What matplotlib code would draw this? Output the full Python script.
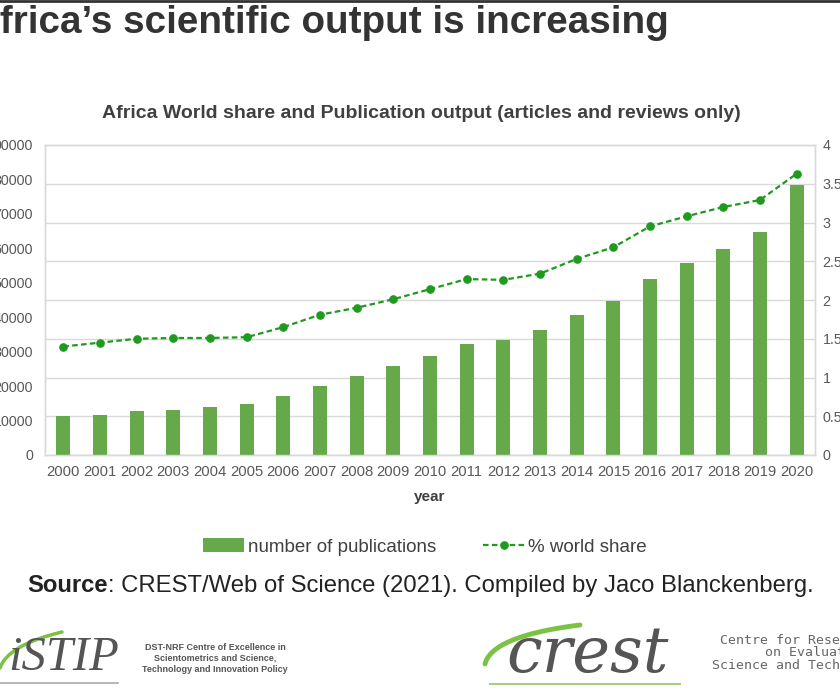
import matplotlib
matplotlib.use("Agg")
import matplotlib.pyplot as plt
import numpy as np
from matplotlib.lines import Line2D
from matplotlib.ticker import FuncFormatter

plt.rcParams['font.family'] = ['Liberation Sans', 'DejaVu Sans']

# values
years = ['2000', '2001', '2002', '2003', '2004', '2005', '2006', '2007', '2008', '2009', '2010',
         '2011', '2012', '2013', '2014', '2015', '2016', '2017', '2018', '2019', '2020']
publications = [11200, 11700, 12700, 13200, 13800, 14900, 17200, 20000, 22900, 25900, 28600,
                32200, 33500, 36400, 40700, 44700, 51200, 55700, 59700, 64800, 78300]
world_share = [1.40, 1.45, 1.50, 1.51, 1.51, 1.52, 1.65, 1.81, 1.90, 2.01, 2.14,
               2.27, 2.26, 2.34, 2.53, 2.68, 2.95, 3.08, 3.20, 3.29, 3.63]

bar_color = "#65a94a"
line_color = "#1f9a1f"
text_color = "#595959"
grid_color = "#d9d9d9"

W, H = 840, 690
fig = plt.figure(figsize=(W / 100, H / 100), dpi=100)


def fx(px):
    return px / W


def fy(py):
    return 1 - py / H


ax = fig.add_axes([fx(45), fy(455), (815 - 45) / W, (455 - 145) / H])
ax2 = ax.twinx()
ax.set_zorder(2)
ax.patch.set_visible(False)
ax2.set_zorder(1)

x = np.arange(len(years))
ax.bar(x, publications, width=0.38, color=bar_color, label='number of publications')
ax2.plot(x, world_share, linestyle=(0, (2.5, 1.5)), color=line_color, lw=1.6,
         marker='o', ms=5.2, label='% world share')

ax.set_xlim(-0.5, 20.5)
ax.set_ylim(0, 90000)
ax.set_yticks(np.arange(0, 90001, 10000))
ax2.set_ylim(0, 4)
ax2.set_yticks(np.arange(0, 4.01, 0.5))
ax2.yaxis.set_major_formatter(FuncFormatter(lambda v, p: f'{v:g}'))
ax2.grid(axis='y', color=grid_color, lw=1)
ax.set_xticks(x, years)

ax.tick_params(axis='x', length=0, labelsize=10.7, colors=text_color, pad=7)
ax.tick_params(axis='y', length=0, labelsize=10.3, colors=text_color, pad=8.5)
ax2.tick_params(axis='y', length=0, labelsize=10.3, colors=text_color, pad=5.5)
for a in (ax, ax2):
    for s in a.spines.values():
        s.set_color(grid_color)
        s.set_linewidth(1)

ax.set_xlabel('year', fontsize=11, fontweight='bold', color='#404040', labelpad=8)

fig.text(fx(421), fy(113), 'Africa World share and Publication output (articles and reviews only)',
         ha='center', va='center', fontsize=14, fontweight='bold', color='#404040')

h1, l1 = ax.get_legend_handles_labels()
h2, l2 = ax2.get_legend_handles_labels()
fig.legend(h1 + h2, l1 + l2, loc='center', bbox_to_anchor=(fx(425), fy(547)), ncol=2,
           frameon=False, fontsize=13.5, handlelength=2.2, columnspacing=2.5,
           handletextpad=0.2, labelcolor='#404040')

# slide heading, cropped on the left
fig.text(-28 / W, fy(23), 'Africa\u2019s scientific output is increasing',
         fontsize=27.8, fontweight='bold', color='#333333', va='center', ha='left')
fig.add_artist(Line2D([0, 1], [fy(1), fy(1)], transform=fig.transFigure, color='#333333', lw=2))

# source line
renderer = fig.canvas.get_renderer()
t = fig.text(fx(27), fy(586), 'Source', fontsize=17.2, fontweight='bold', color='#222222', va='center')
bb = t.get_window_extent(renderer)
fig.text(bb.x1 / W, fy(586), ': CREST/Web of Science (2021). Compiled by Jaco Blanckenberg.',
         fontsize=17.2, color='#222222', va='center')


# logos (approximation)
def swoosh(x0, y0, x1, y1, cx, cy, color, lw):
    s = np.linspace(0, 1, 40)
    xs = (1 - s) ** 2 * x0 + 2 * (1 - s) * s * cx + s ** 2 * x1
    ys = (1 - s) ** 2 * y0 + 2 * (1 - s) * s * cy + s ** 2 * y1
    fig.add_artist(Line2D(xs / W, 1 - ys / H, transform=fig.transFigure, color=color, lw=lw,
                          solid_capstyle='round'))


swoosh(0, 668, 62, 632, 8, 645, '#7cc242', 2.5)
fig.text(fx(8), fy(658), 'iSTIP', fontsize=35, family='Liberation Serif', style='italic',
         color='#555555', va='center')
fig.add_artist(Line2D([0, fx(118)], [fy(683), fy(683)], transform=fig.transFigure,
                      color='#aaaaaa', lw=1.2))
for i, line in enumerate(['DST-NRF Centre of Excellence in', 'Scientometrics and Science,',
                          'Technology and Innovation Policy']):
    fig.text(fx(215), fy(647 + 11.5 * i), line, fontsize=6.5, ha='center', va='center',
             color='#555555', fontweight='bold')

swoosh(485, 664, 580, 625, 492, 636, '#7cc242', 3.5)
fig.text(fx(506), fy(655), 'crest', fontsize=46, family='DejaVu Serif', style='italic',
         color='#555555', va='center')
fig.add_artist(Line2D([fx(490), fx(680)], [fy(684), fy(684)], transform=fig.transFigure,
                      color='#a5d17a', lw=1.5))
fig.text(fx(720), fy(640), 'Centre for Research', fontsize=9.5, family='DejaVu Sans Mono',
         color='#666666', va='center')
fig.text(fx(765), fy(653), 'on Evaluation,', fontsize=9.5, family='DejaVu Sans Mono',
         color='#666666', va='center')
fig.text(fx(712), fy(666), 'Science and Technology', fontsize=9.5, family='DejaVu Sans Mono',
         color='#666666', va='center')

fig.savefig('out.png', dpi=100)
